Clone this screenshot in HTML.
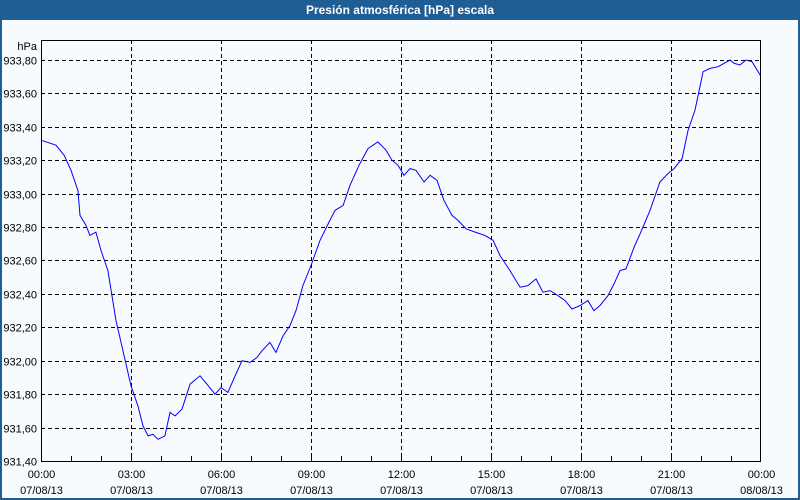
<!DOCTYPE html>
<html><head><meta charset="utf-8"><style>
html,body{margin:0;padding:0;}
body{width:800px;height:500px;overflow:hidden;background:#1f5e94;font-family:"Liberation Sans",sans-serif;}
#title{position:absolute;left:0;top:0;width:800px;height:20px;line-height:20px;text-align:center;color:#fff;font-weight:bold;font-size:12px;}
#panel{position:absolute;left:2px;top:20px;width:796px;height:478px;background:#f7fbfd;}
svg{position:absolute;left:0;top:0;}
svg text{font-family:"Liberation Sans",sans-serif;font-size:11px;fill:#000;}
</style></head><body>
<div id="title">Presión atmosférica [hPa] escala</div>
<div id="panel"></div>
<svg id="chart" width="800" height="500"></svg>
<script>
const hours=[0,0.5,0.77,1,1.23,1.3,1.5,1.63,1.83,2,2.23,2.5,2.77,3,3.23,3.4,3.57,3.73,3.9,4.13,4.3,4.47,4.7,4.97,5.3,5.53,5.8,6,6.23,6.47,6.7,6.97,7.2,7.37,7.63,7.83,8.07,8.3,8.5,8.73,9,9.3,9.6,9.8,10.07,10.3,10.6,10.9,11.23,11.5,11.7,11.9,12.1,12.3,12.5,12.77,12.97,13.2,13.43,13.7,13.9,14.17,14.47,14.8,15.07,15.3,15.63,15.97,16.23,16.5,16.73,16.97,17.23,17.47,17.7,17.97,18.23,18.43,18.63,18.9,19.1,19.3,19.5,19.77,19.97,20.3,20.63,20.9,21.1,21.37,21.57,21.8,22.07,22.3,22.57,22.77,22.97,23.1,23.3,23.5,23.7,23.87,23.97];
const pressure=[933.32,933.29,933.23,933.14,933.02,932.87,932.81,932.75,932.77,932.66,932.54,932.24,932.03,931.85,931.73,931.61,931.55,931.56,931.53,931.55,931.69,931.67,931.71,931.86,931.91,931.86,931.80,931.84,931.81,931.91,932.00,931.99,932.02,932.06,932.11,932.05,932.15,932.21,932.30,932.45,932.57,932.72,932.83,932.90,932.93,933.05,933.17,933.27,933.31,933.26,933.20,933.17,933.11,933.15,933.14,933.07,933.11,933.08,932.96,932.87,932.84,932.79,932.77,932.75,932.72,932.63,932.54,932.44,932.45,932.49,932.41,932.42,932.39,932.36,932.31,932.33,932.36,932.30,932.33,932.39,932.46,932.54,932.55,932.68,932.76,932.90,933.07,933.12,933.15,933.21,933.38,933.50,933.73,933.75,933.76,933.78,933.80,933.78,933.77,933.80,933.79,933.74,933.71];
const yTicks=[931.40,931.60,931.80,932.00,932.20,932.40,932.60,932.80,933.00,933.20,933.40,933.60,933.80];
const xTickHours=[0,3,6,9,12,15,18,21,24];
const xTimeLabels=["00:00","03:00","06:00","09:00","12:00","15:00","18:00","21:00","00:00"];
const xDateLabels=["07/08/13","07/08/13","07/08/13","07/08/13","07/08/13","07/08/13","07/08/13","07/08/13","08/08/13"];

const L=41,R=761,T=40,B=461;
const x=h=>L+(h/24)*(R-L);
const y=v=>B-(v-931.40)/(0.2)*((B-60)/12);
const svg=document.getElementById('chart');
const NS='http://www.w3.org/2000/svg';
function mk(tag,attrs){const e=document.createElementNS(NS,tag);for(const k in attrs)e.setAttribute(k,attrs[k]);svg.appendChild(e);return e;}

yTicks.forEach((v,i)=>{
  const yy=Math.round(y(v))+0.5;
  if(i>0){const g=mk('line',{x1:L,x2:R,y1:yy,y2:yy,stroke:'#000','stroke-dasharray':'4,3','stroke-width':1});
  
  }
  const t=mk('text',{x:37,y:yy+4,'text-anchor':'end'});t.textContent=v.toFixed(2).replace('.',',');
  
  
});
for(let h=1;h<24;h++){
  const xx=Math.round(x(h))+0.5;
  const tk=mk('line',{x1:xx,x2:xx,y1:B-5,y2:B,stroke:'#000'});
  
  
}
xTickHours.forEach((h,i)=>{
  const xx=Math.round(x(h))+0.5;
  if(h>0&&h<24){const g=mk('line',{x1:xx,x2:xx,y1:T,y2:B,stroke:'#000','stroke-dasharray':'4,3'});
  
  }
  const a=mk('text',{x:xx,y:478,'text-anchor':'middle'});a.textContent=xTimeLabels[i];
  
  
  const b=mk('text',{x:xx,y:494,'text-anchor':'middle'});b.textContent=xDateLabels[i];
  
  
});
const u=mk('text',{x:37,y:50,'text-anchor':'end'});u.textContent='hPa';


const fr=mk('rect',{x:L+0.5,y:T+0.5,width:R-L-1,height:B-T,fill:'none',stroke:'#000','stroke-width':1});


const pts=hours.map((h,i)=>x(h).toFixed(1)+','+y(pressure[i]).toFixed(1)).join(' ');
const ln=mk('polyline',{points:pts,fill:'none',stroke:'#0000ff','stroke-width':1});


</script>
</body></html>
